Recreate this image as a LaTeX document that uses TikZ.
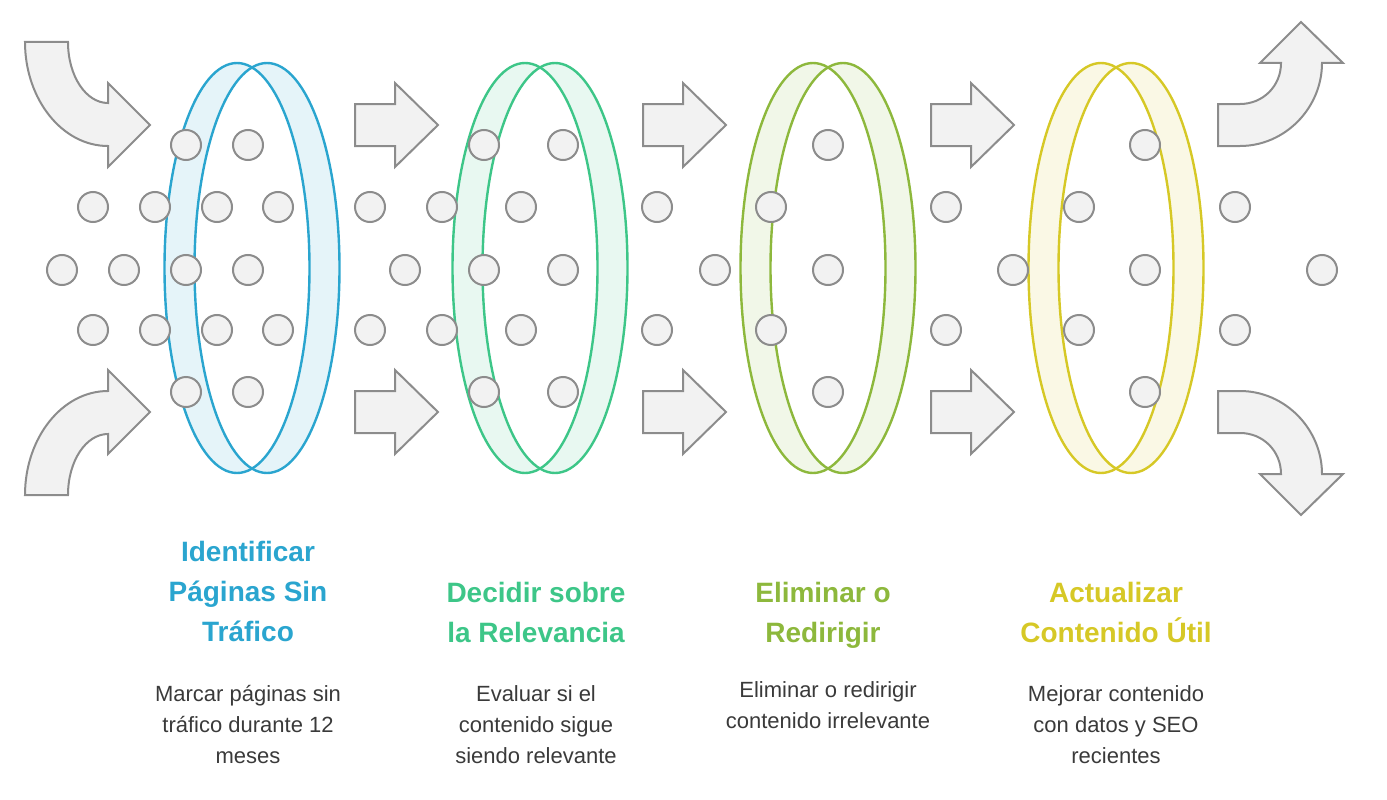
\documentclass[tikz,border=0pt]{standalone}
\usepackage{fontspec}
\setmainfont{Liberation Sans}
\usetikzlibrary{positioning}
\definecolor{dotgray}{HTML}{8C8C8C}
\definecolor{dotfill}{HTML}{F2F2F2}
\definecolor{cblue}{HTML}{2AA5CF}
\definecolor{cgreen}{HTML}{3DC688}
\definecolor{colive}{HTML}{8DB83C}
\definecolor{cyellow}{HTML}{D6C826}
\definecolor{txtgray}{HTML}{3A3A3A}
\tikzset{
  dot/.style={circle,draw=dotgray,fill=dotfill,line width=2pt,minimum size=30pt,inner sep=0pt},
  blk/.style={draw=dotgray,fill=dotfill,line width=2pt,line join=miter},
  title/.style={align=center,font=\fontsize{28}{40}\selectfont\bfseries},
  body/.style={align=center,text=txtgray,font=\fontsize{22}{31}\selectfont},
  pics/ring/.style={code={
    \fill[#1!12] (-15,0) ellipse [x radius=72.5,y radius=205];
    \fill[#1!12] (15,0) ellipse [x radius=72.5,y radius=205];
    \begin{scope}
      \clip (-15,0) ellipse [x radius=72.5,y radius=205];
      \fill[white] (15,0) ellipse [x radius=72.5,y radius=205];
    \end{scope}
    \draw[#1,line width=2.4pt] (-15,0) ellipse [x radius=72.5,y radius=205];
    \draw[#1,line width=2.4pt] (15,0) ellipse [x radius=72.5,y radius=205];
  }}
}
\begin{document}
\begin{tikzpicture}[x=1pt,y=-1pt]
  \useasboundingbox (0,0) rectangle (1387,800);
  % dots behind the right band
  \foreach \p [count=\i] in {(302,270),(595,207),(595,330),(878,207),(878,330)}
    \node[dot] (b\i) at \p {};
  % rings
  \pic at (252,268) {ring=cblue};
  \pic at (540,268) {ring=cgreen};
  \pic at (828,268) {ring=colive};
  \pic at (1116,268) {ring=cyellow};
  % dots
  \foreach \p [count=\i] in {(93,207),(155,207),(217,207),(278,207),(62,270),(124,270),
      (186,270),(248,270),(93,330),(155,330),(217,330),(278,330),(186,145),(248,145),
      (186,392),(248,392),(370,207),(442,207),(405,270),(370,330),(442,330),
      (484,145),(563,145),(521,207),(484,270),(563,270),(521,330),(484,392),(563,392),
      (657,207),(657,330),(715,270),(771,207),(828,145),(828,270),(771,330),(828,392),
      (946,207),(946,330),(1013,270),(1079,207),(1145,145),(1145,270),(1079,330),
      (1145,392),(1235,207),(1235,330),(1322,270)}
    \node[dot] (d\i) at \p {};
  % straight arrows
  \foreach \x in {355,643,931}
    \foreach \y in {125,412}
      \draw[blk] (\x,\y-21) -- (\x+40,\y-21) -- (\x+40,\y-42) -- (\x+83,\y)
        -- (\x+40,\y+42) -- (\x+40,\y+21) -- (\x,\y+21) -- cycle;
  % bent arrows
  \foreach \s in {1,-1}{
    \begin{scope}[shift={(0,{268.5*(1-\s)})},yscale=\s]
      \draw[blk] (25,42) -- (68,42) .. controls (68,76) and (86,103) .. (108,103)
        -- (108,83) -- (150,125) -- (108,167) -- (108,146)
        .. controls (62,146) and (25,99) .. (25,42) -- cycle;
      \draw[blk] (1218,104) -- (1240,104) .. controls (1263,104) and (1281,86) .. (1281,63)
        -- (1260,63) -- (1301,22) -- (1343,63) -- (1322,63)
        .. controls (1322,108) and (1285,146) .. (1240,146) -- (1218,146) -- cycle;
    \end{scope}
  }
  % labels
  \node[title,text=cblue,anchor=north] (t1) at (248,538) {Identificar\\Páginas Sin\\Tráfico};
  \node[title,text=cgreen,anchor=north] (t2) at (536,579) {Decidir sobre\\la Relevancia};
  \node[title,text=colive,anchor=north] (t3) at (823,579) {Eliminar o\\Redirigir};
  \node[title,text=cyellow,anchor=north] (t4) at (1116,579) {Actualizar\\Contenido Útil};
  \node[body,anchor=north] (s1) at (248,682) {Marcar páginas sin\\tráfico durante 12\\meses};
  \node[body,anchor=north] (s2) at (536,682) {Evaluar si el\\contenido sigue\\siendo relevante};
  \node[body,anchor=north] (s3) at (828,678) {Eliminar o redirigir\\contenido irrelevante};
  \node[body,anchor=north] (s4) at (1116,682) {Mejorar contenido\\con datos y SEO\\recientes};
\end{tikzpicture}
\end{document}
